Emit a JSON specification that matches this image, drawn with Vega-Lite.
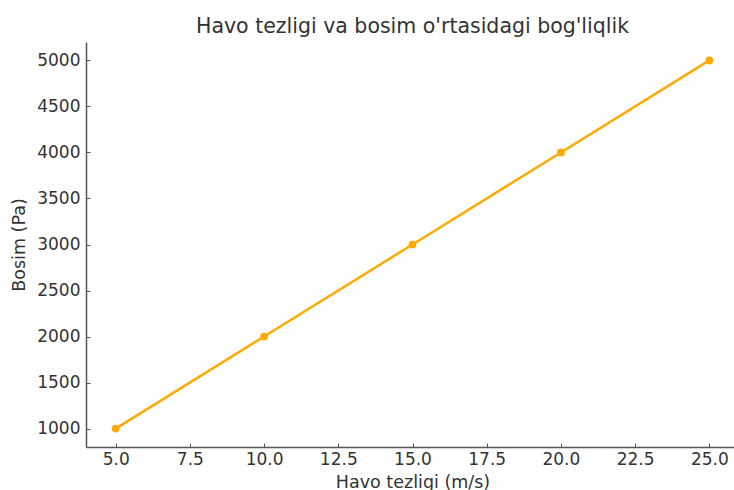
{
  "$schema": "https://vega.github.io/schema/vega-lite/v6.json",
  "width": 653,
  "height": 405,
  "autosize": {"type": "none"},
  "padding": {"left": 86, "top": 42, "right": 0, "bottom": 43},
  "background": "white",
  "config": {
    "view": {"stroke": null},
    "font": "DejaVu Sans"
  },
  "title": {
    "text": "Havo tezligi va bosim o'rtasidagi bog'liqlik",
    "font": "DejaVu Sans",
    "fontSize": 20.5,
    "fontWeight": "normal",
    "color": "#333333",
    "anchor": "middle",
    "frame": "group",
    "offset": 5
  },
  "data": {
    "values": [
      {"tezlik": 5, "bosim": 1000},
      {"tezlik": 10, "bosim": 2000},
      {"tezlik": 15, "bosim": 3000},
      {"tezlik": 20, "bosim": 4000},
      {"tezlik": 25, "bosim": 5000}
    ]
  },
  "encoding": {
    "x": {
      "field": "tezlik",
      "type": "quantitative",
      "scale": {"domain": [4, 26], "nice": false, "zero": false},
      "axis": {
        "title": "Havo tezligi (m/s)",
        "values": [5, 7.5, 10, 12.5, 15, 17.5, 20, 22.5, 25],
        "format": ".1f",
        "grid": false,
        "domainColor": "#555555",
        "domainWidth": 1.5,
        "tickColor": "#555555",
        "tickSize": -4,
        "labelPadding": 8,
        "labelFont": "DejaVu Sans",
        "labelFontSize": 17,
        "labelColor": "#333333",
        "titleFont": "DejaVu Sans",
        "titleFontSize": 17.5,
        "titleFontWeight": "normal",
        "titleColor": "#333333",
        "titlePadding": 6
      }
    },
    "y": {
      "field": "bosim",
      "type": "quantitative",
      "scale": {"domain": [800, 5200], "nice": false, "zero": false},
      "axis": {
        "title": "Bosim (Pa)",
        "values": [1000, 1500, 2000, 2500, 3000, 3500, 4000, 4500, 5000],
        "format": "d",
        "grid": false,
        "domainColor": "#555555",
        "domainWidth": 1.5,
        "tickColor": "#555555",
        "tickSize": -4,
        "labelPadding": 10,
        "labelFont": "DejaVu Sans",
        "labelFontSize": 17,
        "labelColor": "#333333",
        "titleFont": "DejaVu Sans",
        "titleFontSize": 17.5,
        "titleFontWeight": "normal",
        "titleColor": "#333333",
        "titlePadding": 8
      }
    }
  },
  "layer": [
    {"mark": {"type": "line", "color": "#ffaa00", "strokeWidth": 2.5}},
    {"mark": {"type": "point", "filled": true, "color": "#ffaa00", "size": 60, "opacity": 1}}
  ]
}
